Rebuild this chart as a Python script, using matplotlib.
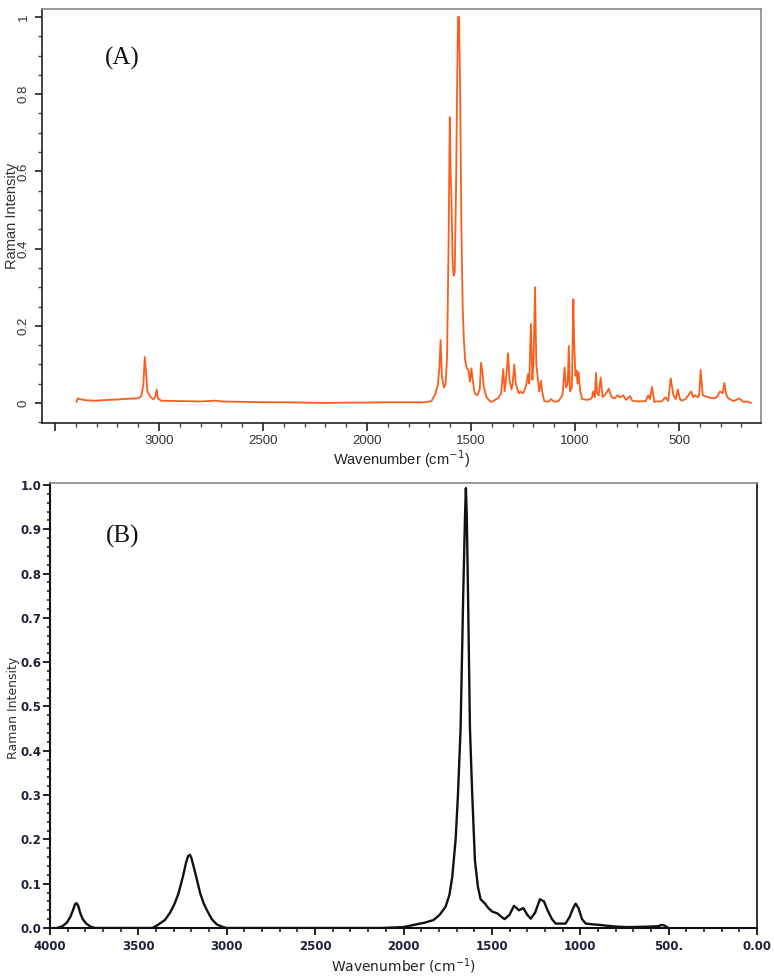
import matplotlib
matplotlib.use("Agg")
import matplotlib.pyplot as plt
from matplotlib.ticker import MultipleLocator, FixedLocator

# ---------------- data ----------------
top_wavenumber = [3396, 3390, 3380, 3350, 3300, 3250, 3200, 3150, 3100, 3085, 3075, 3068,
                  3062, 3055, 3040, 3027, 3018, 3011, 3005, 2990, 2900, 2800, 2730, 2700,
                  2600, 2500, 2400, 2300, 2200, 2100, 2000, 1900, 1800, 1720, 1690, 1670,
                  1660, 1652, 1646, 1640, 1630, 1622, 1615, 1608, 1602, 1598, 1595, 1588,
                  1583, 1578, 1572, 1566, 1562, 1557, 1552, 1546, 1540, 1534, 1528, 1520,
                  1512, 1505, 1498, 1492, 1482, 1470, 1458, 1452, 1446, 1438, 1425, 1410,
                  1400, 1385, 1370, 1355, 1345, 1338, 1330, 1322, 1315, 1305, 1300, 1292,
                  1285, 1270, 1262, 1250, 1235, 1226, 1220, 1212, 1205, 1200, 1192, 1186,
                  1180, 1172, 1164, 1158, 1148, 1130, 1115, 1100, 1080, 1060, 1050, 1043,
                  1035, 1030, 1024, 1015, 1008, 1004, 998, 993, 988, 983, 975, 965,
                  940, 920, 912, 905, 899, 894, 886, 877, 867, 858, 845, 838,
                  824, 810, 795, 784, 768, 755, 736, 725, 700, 660, 648, 639,
                  630, 619, 607, 585, 564, 552, 540, 527, 515, 506, 495, 487,
                  470, 455, 442, 432, 423, 410, 403, 396, 386, 360, 335, 319,
                  303, 290, 282, 272, 263, 239, 225, 210, 191, 170, 155]
top_intensity = [0.003, 0.012, 0.010, 0.007, 0.006, 0.008, 0.009, 0.011, 0.012, 0.018, 0.045, 0.119,
                 0.080, 0.030, 0.015, 0.010, 0.015, 0.035, 0.012, 0.006, 0.005, 0.004, 0.006, 0.004,
                 0.003, 0.002, 0.002, 0.001, 0.000, 0.001, 0.001, 0.002, 0.002, 0.002, 0.005, 0.025,
                 0.045, 0.090, 0.163, 0.070, 0.040, 0.050, 0.120, 0.400, 0.740, 0.595, 0.560, 0.360,
                 0.330, 0.340, 0.550, 0.850, 1.000, 1.000, 0.800, 0.450, 0.250, 0.160, 0.110, 0.090,
                 0.085, 0.055, 0.090, 0.060, 0.025, 0.020, 0.035, 0.104, 0.085, 0.040, 0.015, 0.005,
                 0.003, 0.008, 0.012, 0.025, 0.088, 0.030, 0.070, 0.129, 0.060, 0.035, 0.050, 0.100,
                 0.050, 0.025, 0.030, 0.025, 0.045, 0.075, 0.050, 0.205, 0.060, 0.100, 0.300, 0.100,
                 0.070, 0.030, 0.058, 0.030, 0.005, 0.003, 0.010, 0.003, 0.005, 0.020, 0.092, 0.040,
                 0.050, 0.148, 0.030, 0.040, 0.269, 0.160, 0.070, 0.085, 0.050, 0.080, 0.030, 0.010,
                 0.008, 0.012, 0.030, 0.015, 0.078, 0.025, 0.020, 0.066, 0.015, 0.020, 0.030, 0.037,
                 0.015, 0.012, 0.020, 0.015, 0.020, 0.008, 0.018, 0.006, 0.004, 0.005, 0.020, 0.010,
                 0.042, 0.003, 0.004, 0.004, 0.015, 0.005, 0.064, 0.020, 0.010, 0.035, 0.010, 0.006,
                 0.010, 0.020, 0.030, 0.015, 0.020, 0.015, 0.020, 0.085, 0.020, 0.015, 0.012, 0.015,
                 0.030, 0.025, 0.052, 0.020, 0.012, 0.005, 0.008, 0.012, 0.003, 0.004, 0.000]

bottom_wavenumber = [3960, 3930, 3905, 3885, 3870, 3858, 3850, 3840, 3830, 3815, 3795, 3770,
                     3745, 3600, 3420, 3394, 3350, 3320, 3295, 3273, 3248, 3230, 3218, 3208,
                     3200, 3185, 3173, 3150, 3130, 3112, 3085, 3056, 3020, 3000, 2500, 2130,
                     2000, 1942, 1880, 1830, 1795, 1762, 1740, 1724, 1705, 1692, 1677, 1662,
                     1652, 1647, 1642, 1635, 1624, 1611, 1596, 1579, 1564, 1541, 1520, 1498,
                     1469, 1445, 1428, 1400, 1375, 1360, 1347, 1322, 1300, 1280, 1255, 1228,
                     1205, 1185, 1160, 1139, 1083, 1060, 1040, 1026, 1010, 990, 969, 922,
                     890, 846, 790, 733, 620, 560, 540, 525, 510, 500]
bottom_intensity = [0.000, 0.004, 0.012, 0.025, 0.040, 0.054, 0.056, 0.050, 0.035, 0.020, 0.010, 0.003,
                    0.000, 0.000, 0.000, 0.006, 0.018, 0.035, 0.055, 0.078, 0.116, 0.148, 0.163, 0.165,
                    0.158, 0.135, 0.116, 0.078, 0.055, 0.040, 0.020, 0.008, 0.002, 0.000, 0.000, 0.000,
                    0.002, 0.007, 0.012, 0.018, 0.030, 0.048, 0.075, 0.116, 0.200, 0.300, 0.450, 0.755,
                    0.930, 0.993, 0.930, 0.755, 0.450, 0.300, 0.153, 0.093, 0.065, 0.056, 0.045, 0.037,
                    0.033, 0.025, 0.020, 0.030, 0.050, 0.045, 0.040, 0.045, 0.030, 0.021, 0.035, 0.065,
                    0.060, 0.040, 0.020, 0.010, 0.010, 0.025, 0.045, 0.055, 0.045, 0.020, 0.010, 0.008,
                    0.007, 0.005, 0.003, 0.002, 0.003, 0.004, 0.007, 0.006, 0.002, 0.000]

top_xticks = [3500, 3000, 2500, 2000, 1500, 1000, 500]
top_xticklabels = ["", "3000", "2500", "2000", "1500", "1000", "500"]
top_yticks = [0, 0.2, 0.4, 0.6, 0.8, 1.0]
top_yticklabels = ["0", "0.2", "0.4", "0.6", "0.8", "1"]
bottom_xticks = [4000, 3500, 3000, 2500, 2000, 1500, 1000, 500, 0]
bottom_xticklabels = ["4000", "3500", "3000", "2500", "2000", "1500", "1000", "500.", "0.00"]
bottom_yticks = [0.0, 0.1, 0.2, 0.3, 0.4, 0.5, 0.6, 0.7, 0.8, 0.9, 1.0]
bottom_yticklabels = ["0.0", "0.1", "0.2", "0.3", "0.4", "0.5", "0.6", "0.7", "0.8", "0.9", "1.0"]

# ---------------- figure ----------------
W, H = 774, 977
fig = plt.figure(figsize=(W / 100, H / 100), dpi=100)
fig.patch.set_facecolor("white")

# ----- panel A -----
axA = fig.add_axes([42 / W, 1 - 423 / H, (761 - 42) / W, (423 - 9) / H])
axA.plot(top_wavenumber, top_intensity, color="#fb5e1c", lw=1.3, solid_joinstyle="round")
axA.set_xlim(3562, 106)
axA.set_ylim(-0.0518, 1.0207)
axA.xaxis.set_major_locator(FixedLocator(top_xticks))
axA.set_xticklabels(top_xticklabels, fontfamily="Liberation Sans", fontsize=9.5, color="#333333")
axA.xaxis.set_minor_locator(MultipleLocator(100))
axA.yaxis.set_major_locator(FixedLocator(top_yticks))
axA.set_yticklabels(top_yticklabels, fontfamily="Liberation Sans", fontsize=9.5, color="#333333",
                    rotation=90, va="center")
axA.yaxis.set_minor_locator(MultipleLocator(0.05))
axA.tick_params(axis="x", which="major", direction="out", length=6, width=1.2, color="#222222", pad=3)
axA.tick_params(axis="x", which="minor", direction="out", length=3, width=1, color="#444444")
axA.tick_params(axis="y", which="major", direction="out", length=5, width=1.2, color="#222222", pad=4)
axA.tick_params(axis="y", which="minor", direction="out", length=3, width=1, color="#444444")
for s in ("top", "right"):
    axA.spines[s].set_color("#8a8a8a")
    axA.spines[s].set_linewidth(1.2)
for s in ("left", "bottom"):
    axA.spines[s].set_color("#222222")
    axA.spines[s].set_linewidth(1.2)
axA.set_xlabel("Wavenumber (cm$^{-1}$)", fontfamily="Liberation Sans", fontsize=10.5,
               color="#222222", labelpad=0.5)
axA.set_ylabel("Raman Intensity", fontfamily="Liberation Sans", fontsize=10.5, color="#333333")
axA.yaxis.set_label_coords((19 - 42) / (761 - 42), 0.5)
axA.text(122 / W, 1 - 58 / H, "(A)", transform=fig.transFigure, fontfamily="Liberation Serif",
         fontsize=18, ha="center", va="center", color="#111111")

# ----- panel B -----
axB = fig.add_axes([50 / W, 1 - 928 / H, (757 - 50) / W, (928 - 483) / H])
axB.plot(bottom_wavenumber, bottom_intensity, color="#111111", lw=1.7, solid_joinstyle="round")
axB.set_xlim(4000, 0)
axB.set_ylim(0, 1.0045)
axB.xaxis.set_major_locator(FixedLocator(bottom_xticks))
axB.set_xticklabels(bottom_xticklabels, fontfamily="DejaVu Sans", fontweight="bold",
                    fontsize=8.5, color="#1c2238")
axB.xaxis.set_minor_locator(MultipleLocator(100))
axB.yaxis.set_major_locator(FixedLocator(bottom_yticks))
axB.set_yticklabels(bottom_yticklabels, fontfamily="DejaVu Sans", fontweight="bold",
                    fontsize=8.5, color="#1c2238")
axB.yaxis.set_minor_locator(MultipleLocator(0.02))
axB.tick_params(axis="x", which="major", direction="out", length=5, width=1.3, color="#111111", pad=4)
axB.tick_params(axis="x", which="minor", direction="out", length=3, width=1.2, color="#222222")
axB.tick_params(axis="y", which="major", direction="out", length=5, width=1.3, color="#111111", pad=1)
axB.tick_params(axis="y", which="minor", direction="out", length=2, width=1.2, color="#222222")
axB.spines["top"].set_color("#8a8a8a")
axB.spines["top"].set_linewidth(1.2)
axB.spines["right"].set_color("#222222")
axB.spines["right"].set_linewidth(1.3)
for s in ("left", "bottom"):
    axB.spines[s].set_color("#111111")
    axB.spines[s].set_linewidth(1.5)
axB.set_xlabel("Wavenumber (cm$^{-1}$)", fontfamily="DejaVu Sans", fontsize=10,
               color="#222222", labelpad=2)
axB.set_ylabel("Raman Intensity", fontfamily="DejaVu Sans", fontsize=9, color="#333333")
axB.yaxis.set_label_coords((20 - 50) / (757 - 50), (928 - 708) / (928 - 483))
axB.text(123 / W, 1 - 536 / H, "(B)", transform=fig.transFigure, fontfamily="Liberation Serif",
         fontsize=18, ha="center", va="center", color="#111111")

fig.savefig("out.png", dpi=100, facecolor="white")
